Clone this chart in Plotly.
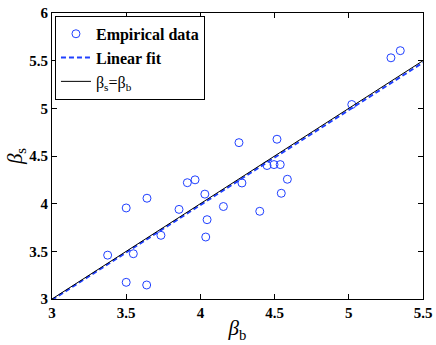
import plotly.graph_objects as go

# empirical data (beta_b, beta_s)
beta_b = [3.375, 3.50, 3.50, 3.548, 3.64, 3.638, 3.734, 3.856, 3.912, 3.964,
          4.03, 4.045, 4.036, 4.155, 4.26, 4.28, 4.40, 4.449, 4.496, 4.538,
          4.516, 4.586, 4.545, 5.02, 5.284, 5.347]
beta_s = [3.46, 3.955, 3.175, 3.475, 4.057, 3.147, 3.668, 3.94, 4.22, 4.25,
          4.10, 3.832, 3.65, 3.97, 4.64, 4.217, 3.92, 4.40, 4.41, 4.41,
          4.676, 4.256, 4.109, 5.04, 5.53, 5.605]

fit_x = [3.0, 5.5]
fit_y = [2.99, 5.48]
ident_x = [3.0, 5.5]
ident_y = [3.0, 5.5]

x_ticks = [3, 3.5, 4, 4.5, 5, 5.5]
y_ticks = [3, 3.5, 4, 4.5, 5, 5.5, 6]

FONT = "Liberation Serif"

fig = go.Figure()
fig.add_trace(go.Scatter(
    x=beta_b, y=beta_s, mode="markers", name="<b>Empirical data</b>",
    marker=dict(symbol="circle-open", size=8, color="#2040ff", line=dict(width=1)),
))
fig.add_trace(go.Scatter(
    x=fit_x, y=fit_y, mode="lines", name="<b>Linear fit</b>",
    line=dict(color="#2040ff", width=2, dash="5px,3px"),
))
fig.add_trace(go.Scatter(
    x=ident_x, y=ident_y, mode="lines", name="β<sub>s</sub>=β<sub>b</sub>",
    line=dict(color="black", width=1),
))

axis_common = dict(
    showgrid=False, zeroline=False, showline=True, linecolor="black",
    linewidth=1, mirror="ticks", ticks="inside", ticklen=5, tickcolor="black",
    tickfont=dict(family=FONT, size=15, color="black", weight=700),
    automargin=False,
)

fig.update_xaxes(
    range=[3, 5.5], tickvals=x_ticks, ticktext=[f"{t:g}" for t in x_ticks],
    title=dict(text="<i>β</i><sub>b</sub>", font=dict(family=FONT, size=21, color="black"),
               standoff=0),
    **axis_common,
)
fig.update_yaxes(
    range=[3, 6], tickvals=y_ticks, ticktext=[f"{t:g}" for t in y_ticks],
    title=dict(text="<i>β</i><sub>s</sub>", font=dict(family=FONT, size=21, color="black"),
               standoff=0),
    **axis_common,
)

fig.update_layout(
    width=436, height=345,
    margin=dict(l=52, r=13, t=13, b=46, autoexpand=False),
    paper_bgcolor="white", plot_bgcolor="white",
    font=dict(family=FONT, color="black"),
    showlegend=True,
    legend=dict(
        x=0.008, y=0.99, xanchor="left", yanchor="top",
        bgcolor="white", bordercolor="black", borderwidth=1,
        font=dict(family=FONT, size=16, color="black"),
        tracegroupgap=0, itemwidth=30,
    ),
)

# page body has an 8px default margin; drop it so the figure sits at 0,0
fig.write_html("out.html", config={"displayModeBar": False},
               post_script="document.body.style.margin='0';")
